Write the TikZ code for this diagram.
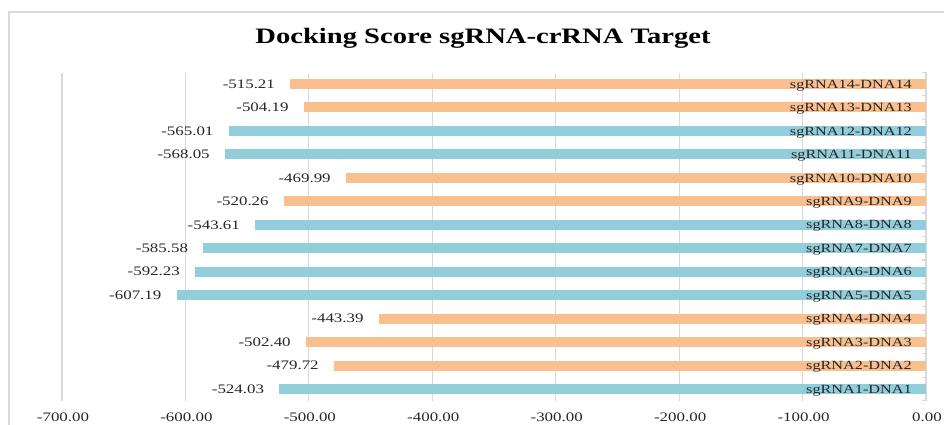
\documentclass[tikz,border=0pt]{standalone}
\usepackage{fontspec}
\setmainfont{Liberation Serif}[FakeStretch=1.3]
\usetikzlibrary{calc, positioning}

\definecolor{peach}{RGB}{250, 191, 143}
\definecolor{aqua}{RGB}{146, 205, 220}
\definecolor{gridgray}{RGB}{217, 217, 217}
\definecolor{txt}{HTML}{262626}

\tikzset{
    gridline/.style={draw=gridgray, line width=1.2pt},
    vallabel/.style={text=txt, inner sep=0pt, text height=8.6pt, text depth=0pt,
        font=\fontsize{13}{15}\selectfont},
    catlabel/.style={text=txt, inner sep=0pt, anchor=east, text height=8.3pt, text depth=0pt,
        font=\fontsize{12.5}{15}\selectfont},
    axlabel/.style={text=txt, inner sep=0pt, text height=8.6pt, text depth=0pt,
        font=\fontsize{13}{15}\selectfont}
}

\begin{document}
\begin{tikzpicture}[x=1pt, y=1pt]
    \useasboundingbox (0,0) rectangle (944,425);
    \clip (0,0) rectangle (944,425);

    % chart frame, runs off the right and bottom edge
    \draw[gridline] (9,-20) rectangle (970,413);

    \def\sc{1.2343}   % px per score unit
    \def\zx{926}      % x of the 0.00 axis
    \def\dy{23.46}    % row spacing

    \node[font=\bfseries\fontsize{22}{24}\selectfont, anchor=base] (title) at (483, 381)
        {Docking Score sgRNA-crRNA Target};

    % vertical grid and value axis labels
    \foreach \v [count=\k] in {-700,-600,-500,-400,-300,-200,-100}
        \draw[gridline] ({\zx+\sc*(\v)},24) -- ({\zx+\sc*(\v)},352);
    \foreach \v [count=\k] in {-700,-600,-500,-400,-300,-200,-100,0}
        \node[axlabel] (ax\k) at ({\zx+1+\sc*(\v)}, 8) {\v.00};

    % category axis with ticks between rows
    \draw[gridline] (\zx,24) -- (\zx,353);
    \foreach \k in {0,...,14}
        \draw[gridline] (\zx-4, {24.3+\k*\dy}) -- (\zx, {24.3+\k*\dy});

    % bars
    \foreach \i/\val/\col in {1/-524.03/aqua, 2/-479.72/peach, 3/-502.40/peach,
            4/-443.39/peach, 5/-607.19/aqua, 6/-592.23/aqua, 7/-585.58/aqua,
            8/-543.61/aqua, 9/-520.26/peach, 10/-469.99/peach, 11/-568.05/aqua,
            12/-565.01/aqua, 13/-504.19/peach, 14/-515.21/peach} {
        \coordinate (s\i) at ({\zx+\sc*(\val)}, {36+(\i-1)*\dy});
        \coordinate (e\i) at (\zx, {36+(\i-1)*\dy});
        \fill[\col] ($(s\i)+(0,-5)$) rectangle ($(e\i)+(0,5)$);
        \node[vallabel, left=15pt of s\i] (v\i) {\val};
        \node[catlabel] (c\i) at ($(e\i)+(-14,0)$) {sgRNA\i-DNA\i};
    }
\end{tikzpicture}
\end{document}
